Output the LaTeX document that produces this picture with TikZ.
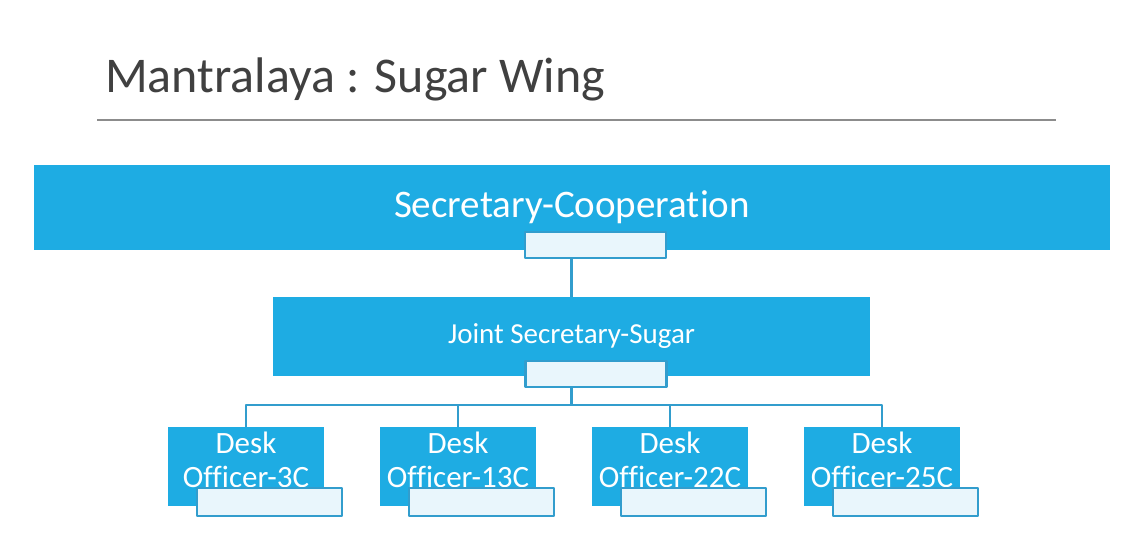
\documentclass[tikz,border=0pt]{standalone}
\usepackage{fontspec}
\setmainfont{Carlito}[Ligatures=NoCommon]
\begin{document}
\begin{tikzpicture}[x=1pt,y=-1pt,line join=round]
    \definecolor{wingblue}{RGB}{30,172,227}
    \definecolor{tabfill}{RGB}{233,246,252}
    \definecolor{tabline}{RGB}{50,157,205}
    \definecolor{titlegray}{RGB}{64,64,64}
    \tikzset{
        chart/.style={fill=wingblue,text=white,inner sep=0pt,outer sep=0pt},
        tabbox/.style={fill=tabfill,draw=tabline,line width=2.2pt,minimum width=141pt,minimum height=26pt,inner sep=0pt,outer sep=0pt},
        link/.style={draw=tabline,line width=2.2pt},
        desklbl/.style={text=white,align=center,font=\fontsize{31}{34}\selectfont,yshift=7pt}
    }
    \useasboundingbox[fill=white] (0,0) rectangle (1141,547);
    %===============================
    \node[anchor=base west,inner sep=0pt,text=titlegray,font=\fontsize{50}{58}\selectfont] (title) at (105,92) {Mantralaya : Sugar Wing};
    \draw[draw={rgb,255:red,140;green,140;blue,140},line width=1.2pt] (97,120)--(1056,120);
    %===============================
    \node[chart,minimum width=1076pt,minimum height=85pt,font=\fontsize{39}{44}\selectfont] (sec) at (572,207.5) {Secretary-Cooperation};
    \node[chart,minimum width=597pt,minimum height=79pt,font=\fontsize{29}{34}\selectfont] (joint) at (571.5,336.5) {Joint Secretary-Sugar};
    \foreach \n/\x/\lbl in {1/246/3C,2/458/13C,3/670/22C,4/882/25C}
        \node[chart,minimum width=156pt,minimum height=79pt,label={[desklbl]center:Desk\\Officer-\lbl}] (d\n) at (\x,466.5) {};
    %===============================
    \draw[link] (joint.north |- sec.south)--(joint.north);
    \coordinate (bus) at ([yshift=-29pt]joint.south);
    \draw[link] (joint.south)--(bus);
    \foreach \n in {1,...,4}
        \draw[link] (bus) -| (d\n.north);
    %===============================
    \node[tabbox] (sectab) at (595.5,245) {};
    \node[tabbox] (jointtab) at (596,374) {};
    \foreach \n in {1,...,4}
        \node[tabbox,minimum width=145pt,minimum height=28pt] (t\n) at ([xshift=23.5pt,yshift=-35.5pt]d\n.center) {};
\end{tikzpicture}
\end{document}
